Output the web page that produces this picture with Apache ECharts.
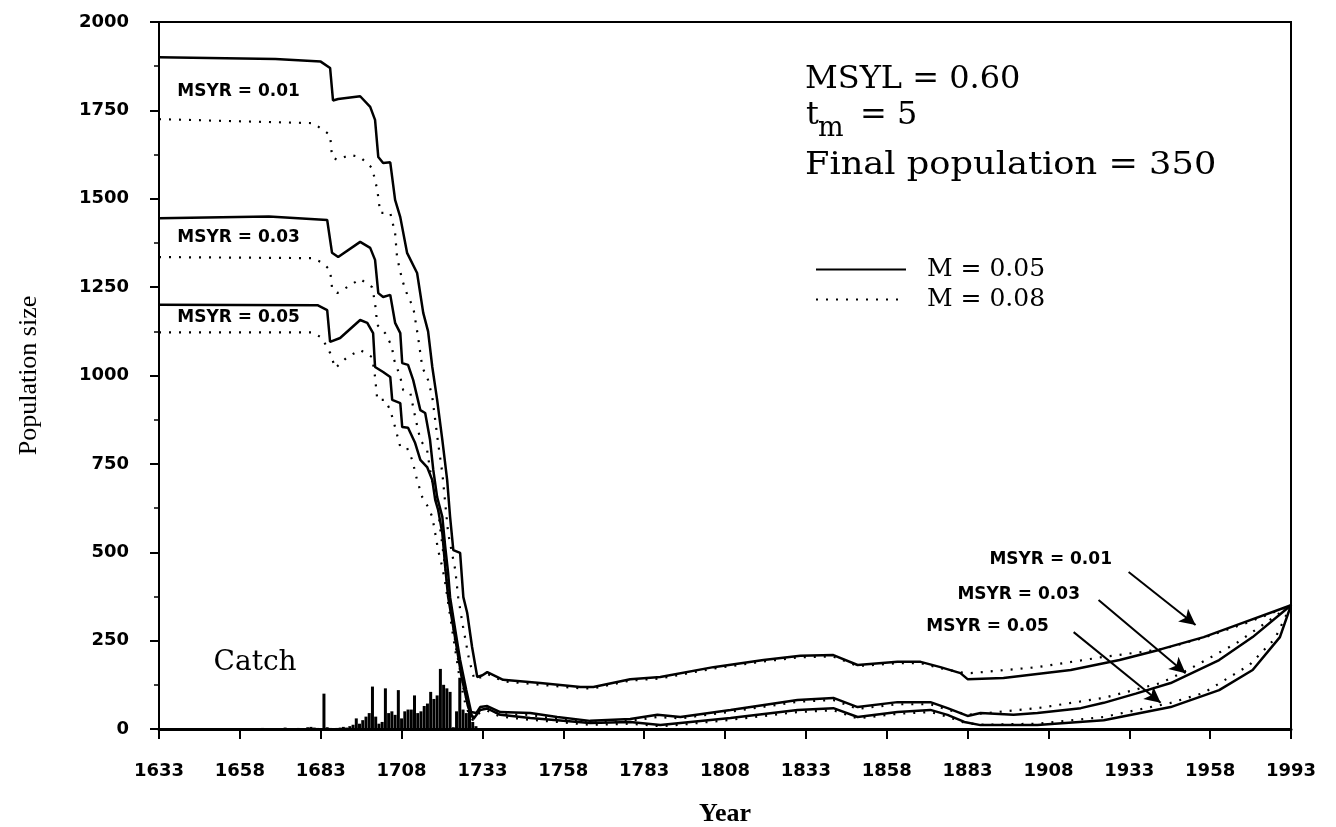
<!DOCTYPE html>
<html>
<head>
<meta charset="utf-8">
<script src="https://cdn.jsdelivr.net/npm/echarts@6/dist/echarts.min.js"></script>
<style>
html,body{margin:0;padding:0;background:#fff;overflow:hidden;}
#chart{width:1336px;height:827px;}
</style>
</head>
<body>
<div id="chart"></div>
<script>
// ---------- tick labels ----------
const xTickLabels = ['1633','1658','1683','1708','1733','1758','1783','1808','1833','1858','1883','1908','1933','1958','1993'];
const xTickYears  = [1633,1658,1683,1708,1733,1758,1783,1808,1833,1858,1883,1908,1933,1958,1993];
const yTickValues = [0,250,500,750,1000,1250,1500,1750,2000];

// ---------- population trajectories [year, population] ----------
// M = 0.05 (solid)
const msyr01_M005 = [[1633,1900],[1669,1895],[1683,1888],[1685.9,1870],[1686.8,1778],[1688.4,1782],[1695.2,1790],[1698.3,1760],[1699.8,1723],[1700.8,1618],[1702.3,1601],[1704.5,1603],[1706,1497],[1707.6,1448],[1709.7,1347],[1712.8,1290],[1714.7,1177],[1716.2,1125],[1717.5,1024],[1719,931],[1720.6,818],[1722.1,704],[1723,600],[1724,506],[1726.1,498],[1727.1,373],[1728.3,328],[1729.8,232],[1731.4,147],[1733,152],[1734.5,161],[1739.4,139],[1750.9,130],[1763.3,119],[1767.3,119],[1778.7,141],[1788,147],[1804.4,175],[1819.9,195],[1831.3,207],[1841.5,209],[1849,181],[1861.3,190],[1868.5,190],[1874.6,175],[1880.8,158],[1883,141],[1894.1,144],[1914.9,167],[1930,195],[1941.8,223],[1956,260],[1969.4,294],[1993,350]];
const msyr03_M005 = [[1633,1445],[1667,1450],[1685,1440],[1686.5,1347],[1688.4,1335],[1695.2,1378],[1698.3,1361],[1699.8,1327],[1700.8,1233],[1702.3,1222],[1704.5,1228],[1706,1149],[1707.6,1120],[1708.2,1035],[1710,1030],[1711.6,987],[1713.8,902],[1715.3,894],[1716.8,818],[1717.8,733],[1719,656],[1720.6,600],[1721.5,515],[1722.4,441],[1723,373],[1724.6,280],[1726.1,195],[1728,110],[1729.5,48],[1731.1,45],[1732.3,62],[1734.5,65],[1738.5,48],[1747.8,45],[1756.1,34],[1766.3,23],[1778.7,28],[1787.1,40],[1794.2,34],[1809.7,54],[1830.4,82],[1841.5,88],[1849,62],[1861.3,76],[1871.5,76],[1876.8,59],[1883,37],[1887,45],[1897.2,40],[1904.6,45],[1918,59],[1925.1,74],[1935,100],[1945.8,130],[1961.9,195],[1976.4,260],[1993,350]];
const msyr05_M005 = [[1633,1200],[1682,1199],[1685,1185],[1685.9,1095],[1689,1106],[1695.2,1157],[1697.4,1149],[1699.2,1120],[1699.8,1024],[1702.3,1010],[1704.5,996],[1705.1,931],[1707.6,922],[1708.2,854],[1710,852],[1712.2,809],[1713.8,761],[1715.9,741],[1717.5,704],[1718.4,648],[1719.3,620],[1720.6,554],[1721.5,458],[1722.4,373],[1724.6,255],[1726.5,150],[1728.5,65],[1730.2,28],[1732.3,54],[1734.5,58],[1738.5,40],[1747.8,31],[1756.1,25],[1766.3,17],[1778.7,20],[1788,11],[1794.2,17],[1809.7,31],[1830.4,54],[1841.5,59],[1849,34],[1861.3,48],[1871.5,54],[1876.8,40],[1882,20],[1887,11],[1904.6,11],[1925.1,25],[1945.8,62],[1961.9,110],[1976.4,167],[1988.2,260],[1993,350]];
// M = 0.08 (dotted)
const msyr01_M008 = [[1633,1725],[1680.6,1714],[1683.7,1695],[1685.9,1680],[1686.5,1618],[1688.1,1610],[1692.1,1624],[1695.2,1618],[1698.9,1587],[1700.5,1525],[1701.4,1460],[1704.5,1460],[1706,1403],[1706.6,1335],[1708.2,1270],[1710,1222],[1711.6,1194],[1713.1,1109],[1714.4,1024],[1716.2,987],[1717.5,939],[1718.4,874],[1719.3,809],[1720.6,724],[1721.5,639],[1722.4,554],[1724.6,450],[1725.5,373],[1727,290],[1728.8,200],[1730.5,140],[1733,148],[1734.5,156],[1739.4,135],[1750.9,125],[1763.3,115],[1767.3,115],[1778.7,137],[1788,143],[1804.4,171],[1819.9,191],[1831.3,203],[1841.5,205],[1849,178],[1861.3,186],[1868.5,186],[1874.6,172],[1880.8,160],[1884,158],[1904.6,175],[1925.1,204],[1942.7,225],[1956,258],[1975,303],[1993,350]];
const msyr03_M008 = [[1633,1335],[1680.6,1332],[1683.7,1318],[1685.9,1298],[1686.5,1248],[1688.1,1233],[1691.2,1250],[1695.2,1273],[1698.9,1250],[1699.8,1205],[1700.5,1143],[1702.9,1120],[1705.1,1081],[1705.4,1052],[1707.6,996],[1708.5,959],[1710.7,951],[1712.2,883],[1713.8,818],[1715.9,789],[1716.8,733],[1717.8,685],[1719,648],[1719.9,571],[1720.9,498],[1722.1,413],[1723.5,320],[1725,220],[1727,120],[1729,50],[1730.5,30],[1732.3,55],[1734.5,58],[1738.5,42],[1747.8,40],[1756.1,28],[1766.3,18],[1778.7,23],[1787.1,34],[1794.2,30],[1809.7,49],[1830.4,77],[1841.5,82],[1849,57],[1861.3,70],[1871.5,70],[1876.8,55],[1883,40],[1904.6,59],[1925.1,88],[1942.7,130],[1951.1,167],[1969.4,243],[1993,350]];
const msyr05_M008 = [[1633,1122],[1680.6,1122],[1683.4,1106],[1685.9,1064],[1687.5,1021],[1691.2,1052],[1695.2,1072],[1698.9,1052],[1699.8,996],[1700.5,931],[1702.9,931],[1704.5,902],[1706,854],[1707.6,798],[1709.7,795],[1711.3,761],[1712.8,704],[1714.4,656],[1716.2,628],[1717.5,600],[1718.4,554],[1719.3,506],[1720.6,458],[1721.5,413],[1723,320],[1724.5,230],[1726,140],[1728,60],[1730,25],[1732.3,48],[1734.5,52],[1738.5,35],[1747.8,26],[1756.1,20],[1766.3,12],[1778.7,15],[1788,8],[1794.2,12],[1809.7,26],[1830.4,48],[1841.5,53],[1849,30],[1861.3,43],[1871.5,48],[1876.8,35],[1882,18],[1887,12],[1904.6,15],[1925.1,34],[1945.8,74],[1956,102],[1975,181],[1986,255],[1993,350]];

// ---------- catch [year, catch] ----------
const catchData = [[1665,3],[1672,4],[1676,3],[1679,5],[1680,6],[1681,4],[1682,3],[1683,2],[1684,100],[1685,5],[1686,3],[1687,2],[1688,3],[1689,4],[1690,6],[1691,4],[1692,8],[1693,12],[1694,30],[1695,15],[1696,25],[1697,35],[1698,45],[1699,120],[1700,35],[1701,15],[1702,20],[1703,115],[1704,45],[1705,50],[1706,40],[1707,110],[1708,30],[1709,50],[1710,55],[1711,55],[1712,95],[1713,45],[1714,50],[1715,65],[1716,72],[1717,105],[1718,85],[1719,95],[1720,170],[1721,125],[1722,115],[1723,105],[1724,5],[1725,50],[1726,145],[1727,55],[1728,45],[1729,60],[1730,20],[1731,8]];

// ---------- annotations ----------
const leftLabels = [
  {text:'MSYR = 0.01', year:1657.6, value:1802},
  {text:'MSYR = 0.03', year:1657.6, value:1389},
  {text:'MSYR = 0.05', year:1657.6, value:1163}
];
const rightLabels = [
  {text:'MSYR = 0.01', year:1908.7, value:478, from:[1932.8,444], to:[1953.5,294]},
  {text:'MSYR = 0.03', year:1898.8, value:379, from:[1923.5,365], to:[1950.4,158]},
  {text:'MSYR = 0.05', year:1889.2, value:291, from:[1915.8,274], to:[1942.7,74]}
];
const catchLabel = {text:'Catch', year:1662.7, value:187};

// map labelled years onto the evenly spaced tick positions of the axis
function yearToPos(y){
  for (let i = 0; i < xTickYears.length - 1; i++){
    if (y <= xTickYears[i+1]) return i + (y - xTickYears[i]) / (xTickYears[i+1] - xTickYears[i]);
  }
  return xTickYears.length - 1;
}
const conv = arr => arr.map(p => [yearToPos(p[0]), p[1]]);

const chart = echarts.init(document.getElementById('chart'), null, {renderer:'canvas'});

const solidStyle = {color:'#000', width:2.5, type:'solid'};
const dotStyle = {color:'#000', width:2.2, type:[2,8]};
function lineSeries(name, data, style){
  return {name, type:'line', data:conv(data), symbol:'none', lineStyle:style, itemStyle:{color:'#000'}, z:3, silent:true};
}
const labelFont = {fontFamily:'DejaVu Sans', fontWeight:'bold', fontSize:17, color:'#000'};

const markPts = [];
leftLabels.concat(rightLabels).forEach(l => markPts.push({coord:[yearToPos(l.year), l.value], label:Object.assign({show:true, formatter:l.text, position:'inside'}, labelFont)}));
markPts.push({coord:[yearToPos(catchLabel.year), catchLabel.value], label:{show:true, formatter:catchLabel.text, position:'inside', fontFamily:'DejaVu Serif', fontSize:28, color:'#000'}});
const arrows = rightLabels.map(l => [{coord:[yearToPos(l.from[0]), l.from[1]]},{coord:[yearToPos(l.to[0]), l.to[1]]}]);

const series = [
  lineSeries('M = 0.05', msyr01_M005, solidStyle),
  lineSeries('M = 0.05', msyr03_M005, solidStyle),
  lineSeries('M = 0.05', msyr05_M005, solidStyle),
  lineSeries('M = 0.08', msyr01_M008, dotStyle),
  lineSeries('M = 0.08', msyr03_M008, dotStyle),
  lineSeries('M = 0.08', msyr05_M008, dotStyle),
  {
    name:'Catch', type:'bar', data:conv(catchData), barWidth:3, itemStyle:{color:'#000'}, silent:true, z:2,
    markPoint:{symbol:'circle', symbolSize:1, itemStyle:{color:'rgba(0,0,0,0)'}, data:markPts, silent:true},
    markLine:{symbol:['none','arrow'], symbolSize:[12,16], silent:true, lineStyle:{color:'#000', width:2, type:'solid'}, label:{show:false}, data:arrows}
  }
];

const option = {
  animation:false,
  backgroundColor:'#fff',
  grid:{left:159, right:45, top:22, bottom:98, containLabel:false, outerBoundsMode:'none', show:true, borderColor:'#000', borderWidth:2, backgroundColor:'transparent'},
  xAxis:{
    type:'value', min:0, max:xTickLabels.length-1, interval:1,
    name:'Year', nameLocation:'middle', nameGap:72,
    nameTextStyle:{fontFamily:'Liberation Serif', fontWeight:'bold', fontSize:26, color:'#000'},
    axisLine:{show:true, lineStyle:{color:'#000', width:3}},
    axisTick:{show:true, inside:false, length:10, lineStyle:{color:'#000', width:2}},
    axisLabel:{margin:33, formatter:v => xTickLabels[Math.round(v)], fontFamily:'DejaVu Sans', fontWeight:'bold', fontSize:18, color:'#000'},
    splitLine:{show:false}
  },
  yAxis:{
    type:'value', min:yTickValues[0], max:yTickValues[yTickValues.length-1], interval:yTickValues[1]-yTickValues[0],
    name:'Population size', nameLocation:'middle', nameGap:117,
    nameTextStyle:{fontFamily:'Liberation Serif', fontSize:26, color:'#000'},
    axisLine:{show:true, lineStyle:{color:'#000', width:2}},
    axisTick:{show:true, inside:false, length:9, lineStyle:{color:'#000', width:2}},
    minorTick:{show:true, splitNumber:2, length:5, lineStyle:{color:'#000', width:1.5}},
    axisLabel:{margin:30, formatter:v => String(v), fontFamily:'DejaVu Sans', fontWeight:'bold', fontSize:18, color:'#000'},
    splitLine:{show:false}
  },
  legend:{
    data:['M = 0.05','M = 0.08'], orient:'vertical', left:810, top:252,
    itemWidth:90, itemHeight:14, itemGap:5, selectedMode:false,
    itemStyle:{opacity:0},
    textStyle:{fontFamily:'DejaVu Serif', fontSize:25, color:'#000', padding:[0,0,0,16]}
  },
  graphic:[
    {type:'text', x:805, y:80, style:{text:'MSYL = 0.60', font:'32px "DejaVu Serif"', fill:'#000', align:'left', verticalAlign:'middle', textAlign:'left', textVerticalAlign:'middle'}},
    {type:'text', x:806, y:116, style:{text:'t', font:'32px "DejaVu Serif"', fill:'#000', align:'left', verticalAlign:'middle', textAlign:'left', textVerticalAlign:'middle'}},
    {type:'text', x:818, y:129, style:{text:'m', font:'27px "DejaVu Serif"', fill:'#000', align:'left', verticalAlign:'middle', textAlign:'left', textVerticalAlign:'middle'}},
    {type:'text', x:860, y:116, style:{text:'= 5', font:'32px "DejaVu Serif"', fill:'#000', align:'left', verticalAlign:'middle', textAlign:'left', textVerticalAlign:'middle'}},
    {type:'text', x:805, y:166, scaleX:1.1, style:{text:'Final population = 350', font:'32px "DejaVu Serif"', fill:'#000', align:'left', verticalAlign:'middle', textAlign:'left', textVerticalAlign:'middle'}}
  ],
  series
};
chart.setOption(option);
</script>
</body>
</html>
